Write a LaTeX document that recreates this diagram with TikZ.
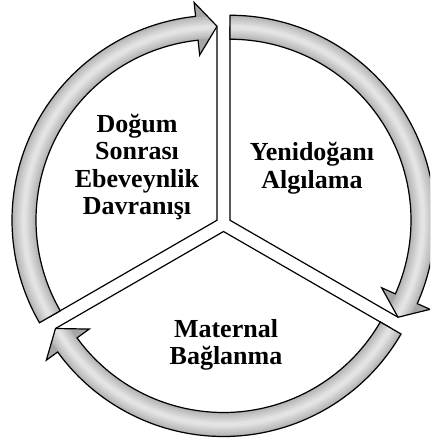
\documentclass[tikz,border=0pt]{standalone}
\usepackage{fontspec}
\setmainfont{Liberation Serif}
\usepackage{tikz}
\usetikzlibrary{positioning}
\definecolor{bandedge}{HTML}{A6A6A6}
\newcommand{\rOut}{205}
\newcommand{\rIn}{181}
\newcommand{\rMid}{193}
\newcommand{\rTip}{194}
\newcommand{\rBarbOut}{219}
\newcommand{\rBarbIn}{166}
% outline of one curved arrow: #1 start angle, #2 angle of the tip
\newcommand{\arrowpath}[2]{(#1:\rOut) arc[start angle=#1, end angle=#2+6, radius=\rOut]
  -- (#2+6:\rBarbOut) -- (#2:\rTip) -- (#2+6:\rBarbIn) -- (#2+6:\rIn)
  arc[start angle=#2+6, end angle=#1, radius=\rIn] -- cycle}
% one segment: #1 direction of its offset, #2 start angle, #3 end angle
\newcommand{\cycleseg}[3]{%
  \begin{scope}[shift={(#1:7.5)}]
    \filldraw[segpie] (0,0) -- (#2:\rMid) arc[start angle=#2, end angle=#3, radius=\rMid] -- cycle;
    \begin{scope}
      \clip \arrowpath{#2}{#3};
      \fill[bandedge] \arrowpath{#2}{#3};
      % soft tube shading, light in the middle
      \foreach \w/\g in {22/70, 19/62, 16/55, 13/48, 10/41, 7/34, 4/27}
        \draw[line width=\w, black!\g!white!40] (#2:\rMid) arc[start angle=#2, end angle=#3, radius=\rMid];
    \end{scope}
    \draw[segline] \arrowpath{#2}{#3};
  \end{scope}}

\begin{document}
\begin{tikzpicture}[x=1pt,y=1pt,
    segpie/.style={fill=white, draw=black, line width=1.2},
    segline/.style={draw=black, line width=1.2},
    label/.style={align=center, font=\fontsize{26}{27.5}\selectfont\bfseries}]
  \useasboundingbox (0,0) rectangle (430,443);
  \clip (0,0) rectangle (430,443);

  % Three segments of the cycle
  \begin{scope}[shift={(223.5,219)}]
    \cycleseg{150}{210}{90}
    \cycleseg{30}{90}{-30}
    \cycleseg{270}{-30}{-150}
  \end{scope}

  % Labels
  \node[label] (ebeveynlik) at (137,276) {Doğum\\Sonrası\\Ebeveynlik\\Davranışı};
  \node[label] (algilama) at (312,275) {Yenidoğanı\\Algılama};
  \node[label] (baglanma) at (226,98) {Maternal\\Bağlanma};
\end{tikzpicture}
\end{document}
